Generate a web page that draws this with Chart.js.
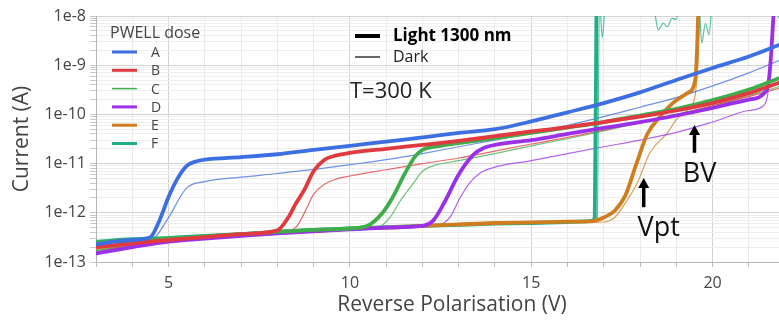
<!DOCTYPE html>
<html><head><meta charset="utf-8">
<script src="https://cdn.jsdelivr.net/npm/chart.js@4.4.1/dist/chart.umd.min.js"></script>
<style>html,body{margin:0;padding:0;background:#fff;}#wrap{width:779px;height:323px;position:relative;}</style>
</head><body><div id="wrap"><canvas id="c" width="779" height="323"></canvas></div>
<script>
// ---------- data ----------
const seriesNames = ['A','B','C','D','E','F'];
const legendTitle = 'PWELL dose';
const xTitle = 'Reverse Polarisation (V)';
const yTitle = 'Current (A)';
const xTickValues = [3,4,5,6,7,8,9,10,11,12,13,14,15,16,17,18,19,20,21];
const xTickLabels = {5:'5',10:'10',15:'15',20:'20'};
const yMajorTicks = [1e-13,1e-12,1e-11,1e-10,1e-9,1e-8];
const yTickLabels = ['1e-13','1e-12','1e-11','1e-10','1e-9','1e-8'];

const aLightV = [3,3.5,4,4.5,4.75,5,5.25,5.5,5.75,6,7,8,9,10,11,12,13,14,15,16,17,18,19,20,21,21.9];
const aLightI = [2.3e-13,2.6e-13,2.8e-13,3.2e-13,7e-13,2.1e-12,5e-12,9e-12,1.1e-11,1.2e-11,1.35e-11,1.55e-11,1.9e-11,2.3e-11,2.8e-11,3.4e-11,4.2e-11,5e-11,7.2e-11,1.1e-10,1.7e-10,2.8e-10,5e-10,8.8e-10,1.5e-9,2.7e-9];
const aDarkV = [3,4,4.6,5,5.5,6,7,8,9,10,11,12,13,14,15,16,17,18,19,20,21,21.9];
const aDarkI = [1.5e-13,2e-13,3e-13,8e-13,3.2e-12,4.3e-12,5.3e-12,6.3e-12,7.6e-12,9.5e-12,1.2e-11,1.6e-11,2.2e-11,3e-11,4.2e-11,6e-11,9e-11,1.4e-10,2.2e-10,3.8e-10,7e-10,1.3e-9];

const bLightV = [3,4,5,6,7,8,8.3,8.5,8.75,9,9.3,9.6,10,11,12,13,14,15,16,17,18,19,20,21,21.9];
const bLightI = [2e-13,2.4e-13,2.8e-13,3.2e-13,3.7e-13,4.4e-13,8e-13,1.5e-12,3e-12,7e-12,1.2e-11,1.45e-11,1.65e-11,2e-11,2.4e-11,2.9e-11,3.6e-11,4.5e-11,5.5e-11,7e-11,9e-11,1.2e-10,1.7e-10,2.7e-10,4.6e-10];
const bDarkV = [3,4,5,6,7,8,8.5,8.8,9,9.3,9.6,10,11,12,13,14,15,16,17,18,19,20,21,21.9];
const bDarkI = [1.6e-13,2.2e-13,2.7e-13,3.1e-13,3.5e-13,4e-13,5e-13,1.2e-12,2.4e-12,3.8e-12,4.8e-12,5.6e-12,7.5e-12,1e-11,1.3e-11,1.8e-11,2.5e-11,3.4e-11,4.8e-11,7e-11,1e-10,1.5e-10,2.3e-10,3.5e-10];

const cLightV = [3,4,5,6,7,8,9,10,10.5,10.9,11.2,11.5,11.8,12,12.5,13,14,15,16,17,18,19,20,21,21.9];
const cLightI = [2.5e-13,2.8e-13,3e-13,3.3e-13,3.7e-13,4.1e-13,4.5e-13,4.8e-13,5.5e-13,1e-12,2.2e-12,6e-12,1.4e-11,1.9e-11,2.3e-11,2.6e-11,3.3e-11,4.2e-11,5.4e-11,7e-11,9.5e-11,1.3e-10,1.95e-10,3.2e-10,5.7e-10];
const cDarkV = [3,4,5,6,7,8,9,10,10.8,11.1,11.4,11.75,12,12.3,13,14,15,16,17,18,19,20,21,21.9];
const cDarkI = [1.7e-13,2.2e-13,2.7e-13,3.1e-13,3.5e-13,3.9e-13,4.3e-13,4.7e-13,5.2e-13,8e-13,1.8e-12,4e-12,7e-12,9e-12,1.15e-11,1.6e-11,2.3e-11,3.2e-11,4.6e-11,6.8e-11,1e-10,1.5e-10,2.4e-10,3.8e-10];

const dLightV = [3,4,5,6,7,8,9,10,11,12,12.3,12.6,13,13.4,13.7,14,15,16,17,18,19,20,20.5,21,21.4,21.55,21.62,21.7];
const dLightI = [1.5e-13,2e-13,2.6e-13,3e-13,3.4e-13,3.8e-13,4.2e-13,4.6e-13,5e-13,5.4e-13,7e-13,1.6e-12,6e-12,1.5e-11,2.1e-11,2.4e-11,3e-11,4e-11,5.3e-11,7e-11,9.5e-11,1.35e-10,1.65e-10,2e-10,2.6e-10,5e-10,2e-9,2e-8];
const dDarkV = [3,4,5,6,7,8,9,10,11,12,12.5,12.8,13,13.3,13.6,14,15,16,17,18,19,20,21,21.4,21.55,21.62,21.7];
const dDarkI = [1.5e-13,2e-13,2.5e-13,2.9e-13,3.3e-13,3.7e-13,4.1e-13,4.5e-13,4.9e-13,5.3e-13,5.8e-13,9e-13,1.8e-12,4e-12,6.5e-12,8.5e-12,1.15e-11,1.6e-11,2.2e-11,3e-11,4.3e-11,7e-11,1.2e-10,1.5e-10,4e-10,3e-9,2e-8];

const eLightV = [3,4,5,6,7,8,9,10,11,12,13,14,15,16,16.7,17,17.3,17.6,17.9,18.2,18.55,18.9,19.3,19.52,19.57,19.62];
const eLightI = [2e-13,2.4e-13,2.8e-13,3.2e-13,3.6e-13,4e-13,4.3e-13,4.7e-13,5e-13,5.4e-13,5.8e-13,6.2e-13,6.4e-13,6.6e-13,6.8e-13,8e-13,1.1e-12,2.3e-12,1e-11,4e-11,9e-11,1.7e-10,2.7e-10,5e-10,2e-9,3e-8];
const eDarkV = [3,4,5,6,7,8,9,10,11,12,13,14,15,16,17,17.3,17.6,17.92,18.28,18.75,19,19.4,19.52,19.6,19.66];
const eDarkI = [1.8e-13,2.3e-13,2.7e-13,3.1e-13,3.5e-13,3.9e-13,4.2e-13,4.6e-13,4.9e-13,5.3e-13,5.7e-13,6e-13,6.2e-13,6.4e-13,6.5e-13,8e-13,1.6e-12,4e-12,1.7e-11,4.2e-11,7.8e-11,1.5e-10,2.5e-10,1.5e-9,3e-8];

const fLightV = [3,4,5,6,7,8,9,10,11,12,13,14,15,16,16.6,16.75,16.8];
const fLightI = [2.6e-13,2.9e-13,3.1e-13,3.4e-13,3.7e-13,4.1e-13,4.5e-13,4.8e-13,5.1e-13,5.4e-13,5.7e-13,6e-13,6.2e-13,6.5e-13,6.8e-13,7.5e-13,3e-8];
const fDarkV = [3,4,5,6,7,8,9,10,11,12,13,14,15,16,16.7,16.82,16.88,16.96,17.05,18.35,18.42,18.5,18.64,18.75,18.88,19,19.1,19.62,19.7,19.8,19.9,20,21.7,21.83];
const fDarkI = [1.7e-13,2.3e-13,2.8e-13,3.2e-13,3.6e-13,4e-13,4.4e-13,4.7e-13,5e-13,5.3e-13,5.6e-13,5.9e-13,6.1e-13,6.4e-13,6.7e-13,7.5e-13,2e-8,3.6e-9,2e-8,2e-8,1e-8,5.2e-9,7.2e-9,6e-9,9e-9,8.5e-9,2e-8,2e-8,2.8e-9,7e-9,4.2e-9,2e-8,2e-8,9e-9];

// annotations (data units)
const vptArrow = {x:18.1, from:1.3e-12, to:5.1e-12, label:'Vpt', dx:15};
const bvArrow  = {x:19.5, from:1.66e-11, to:6.1e-11, label:'BV', dx:5};
const lightLabel = 'Light 1300 nm';
const darkLabel = 'Dark';
const tempLabel = 'T=300 K';

// ---------- styles ----------
const colors = ['#3d6fe2','#e03a40','#40ad4b','#9a30e8','#cf7d1e','#1fae88'];
const FONT = '"Open Sans", "Noto Sans", sans-serif';
const textColor = '#444444';

const lightSets = [[aLightV,aLightI],[bLightV,bLightI],[cLightV,cLightI],[dLightV,dLightI],[eLightV,eLightI],[fLightV,fLightI]];
const darkSets  = [[aDarkV,aDarkI],[bDarkV,bDarkI],[cDarkV,cDarkI],[dDarkV,dDarkI],[eDarkV,eDarkI],[fDarkV,fDarkI]];
const toXY = (v,i) => v.map((x,k)=>({x:x,y:i[k]}));

function hexA(h,a){const n=parseInt(h.slice(1),16);return `rgba(${n>>16&255},${n>>8&255},${n&255},${a})`;}

const datasets = [];
lightSets.forEach((s,k)=>datasets.push({label:seriesNames[k]+' light',data:toXY(s[0],s[1]),borderColor:colors[k],borderWidth:3.8,pointRadius:0,cubicInterpolationMode:'monotone',borderJoinStyle:'round',borderCapStyle:'round'}));
darkSets.forEach((s,k)=>datasets.push({label:seriesNames[k]+' dark',data:toXY(s[0],s[1]),borderColor:hexA(colors[k],0.75),borderWidth:1.2,pointRadius:0,cubicInterpolationMode:'monotone'}));

function isMajorY(v){const l=Math.log10(v);return Math.abs(l-Math.round(l))<1e-6;}

const overlay = {
  id:'overlay',
  afterDatasetsDraw(chart){
    const {ctx,scales:{x,y}} = chart;
    ctx.save();
    // legend
    ctx.fillStyle = textColor; ctx.textBaseline='middle'; ctx.textAlign='left';
    ctx.font = `16px ${FONT}`;
    ctx.fillText(legendTitle, 110, 33);
    seriesNames.forEach((n,k)=>{
      const yy = 52 + k*18.3;
      ctx.strokeStyle = colors[k]; ctx.lineWidth = (k===2)?1.5:3;
      ctx.beginPath(); ctx.moveTo(112,yy); ctx.lineTo(137,yy); ctx.stroke();
      ctx.fillStyle = textColor; ctx.font = `14px ${FONT}`;
      ctx.fillText(n, 151, yy+1);
    });
    // light/dark key
    ctx.strokeStyle='#000'; ctx.lineWidth=4;
    ctx.beginPath(); ctx.moveTo(355,36); ctx.lineTo(380,36); ctx.stroke();
    ctx.lineWidth=1.2;
    ctx.beginPath(); ctx.moveTo(355,57); ctx.lineTo(380,57); ctx.stroke();
    ctx.fillStyle='#000'; ctx.font=`bold 17px ${FONT}`;
    ctx.fillText(lightLabel, 393, 36);
    ctx.fillStyle='#222'; ctx.font=`16px ${FONT}`;
    ctx.fillText(darkLabel, 393, 57);
    ctx.font=`22px ${FONT}`; ctx.fillStyle='#222';
    ctx.fillText(tempLabel, 350, 92);
    // arrows
    [vptArrow,bvArrow].forEach(a=>{
      const px = x.getPixelForValue(a.x);
      const y0 = y.getPixelForValue(a.from), y1 = y.getPixelForValue(a.to);
      ctx.strokeStyle='#000'; ctx.fillStyle='#000'; ctx.lineWidth=3.5;
      ctx.beginPath(); ctx.moveTo(px,y0); ctx.lineTo(px,y1+8); ctx.stroke();
      ctx.beginPath(); ctx.moveTo(px-5.5,y1+10); ctx.lineTo(px+5.5,y1+10); ctx.lineTo(px,y1); ctx.closePath(); ctx.fill();
      ctx.font=`27px ${FONT}`; ctx.textAlign='center'; ctx.textBaseline='top';
      ctx.fillStyle='#111';
      ctx.fillText(a.label, px + a.dx, y0+8);
    });
    // x-axis title
    ctx.font=`21px ${FONT}`; ctx.fillStyle=textColor; ctx.textAlign='center'; ctx.textBaseline='middle';
    ctx.fillText(xTitle, 452, 305);
    ctx.restore();
  }
};

new Chart(document.getElementById('c'), {
  type:'line',
  data:{datasets},
  options:{
    responsive:false, animation:false, devicePixelRatio:1,
    layout:{padding:{top:16,left:0,right:0,bottom:0}},
    plugins:{legend:{display:false},tooltip:{enabled:false}},
    scales:{
      x:{type:'linear',min:3,max:21.83,
        afterBuildTicks:s=>{s.ticks = xTickValues.map(v=>({value:v}));},
        afterFit:s=>{s.height=61; s.paddingLeft=0; s.paddingRight=0;},
        ticks:{autoSkip:false,maxRotation:0,padding:7,color:textColor,font:{family:FONT,size:16},callback:v=>xTickLabels[v]||''},
        grid:{color:c=>(c.tick && c.tick.value%5===0)?'#d2d2d2':'#ebebeb',tickLength:5,tickColor:'#bdbdbd',lineWidth:1},
        border:{color:'#b5b5b5'},
        title:{display:false}
      },
      y:{type:'logarithmic',min:1e-13,max:1e-8,
        afterBuildTicks:s=>{const t=[];yMajorTicks.forEach((d,i)=>{t.push({value:d});if(i<yMajorTicks.length-1){[2,3,4,5,6,7,8,9].forEach(m=>t.push({value:d*m}));}});s.ticks=t;},
        afterFit:s=>{s.width=96; s.paddingTop=0; s.paddingBottom=0;},
        ticks:{autoSkip:false,padding:4,color:textColor,font:{family:FONT,size:16},callback:(v)=>{const i=yMajorTicks.findIndex(d=>Math.abs(Math.log10(d)-Math.log10(v))<1e-6);return i>=0?yTickLabels[i]:'';}},
        grid:{color:c=>(c.tick && isMajorY(c.tick.value))?'#d2d2d2':'#eeeeee',tickLength:6,tickColor:'#c8c8c8',lineWidth:1},
        border:{color:'#b5b5b5'},
        title:{display:true,text:yTitle,color:textColor,font:{family:FONT,size:21},padding:{top:9,bottom:0}}
      }
    }
  },
  plugins:[overlay]
});
</script></body></html>
